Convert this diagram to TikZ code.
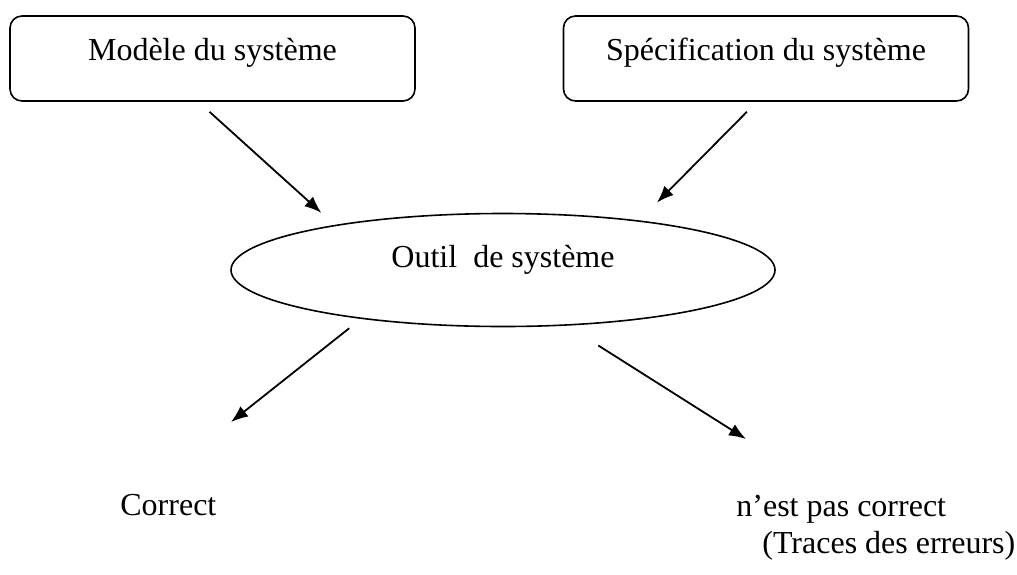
\documentclass[tikz,border=0pt]{standalone}
\usepackage{fontspec}
\setmainfont{Liberation Serif}
\usepackage{tikz}
\usetikzlibrary{shapes}
\usetikzlibrary{arrows.meta}
\tikzset{boite/.style={rectangle, rounded corners=6pt, draw, line width=.8pt, minimum width=202.5pt, minimum height=42.5pt, text height=12pt, text depth=10.5pt}}
\tikzset{outil/.style={ellipse, draw, line width=.8pt, inner sep=0pt, minimum width=272pt, minimum height=56.5pt, text height=12pt, text depth=15pt}}
\tikzset{fleche/.style={line width=.9pt, -{Latex[length=8.5pt,width=6.5pt]}}}

\begin{document}
\begin{tikzpicture}[x=.5pt,y=-.5pt,font=\fontsize{16}{19}\selectfont]
    \useasboundingbox (0,0) rectangle (1017,574);
    \foreach \x/\lab/\tx in {
      212.5/modele/Modèle du système,
      766/spec/Spécification du système%
    } {
      \node[boite] (\lab) at (\x, 58.5) {\tx};
    }
    \node[outil] (outil) at (503,270) {Outil\ \ de système};
    \node[inner sep=0pt, anchor=base west] (correct) at (120,515) {Correct};
    \node[inner sep=0pt, anchor=base west] (faux) at (736,516) {n’est pas correct};
    \node[inner sep=0pt, anchor=base west] (traces) at (762,553) {(Traces des erreurs)};
    \coordinate (finok) at (231,422);
    \coordinate (finfaux) at (746,439);
    \draw[fleche, shorten <=7.5pt, shorten >=9pt] (modele.252) -- (outil.165);
    \draw[fleche, shorten <=7pt, shorten >=12.5pt] (spec.258) -- (outil.20);
    \draw[fleche, shorten <=7.5pt] (outil.199) -- (finok);
    \draw[fleche, shorten <=18.5pt] (outil.-41) -- (finfaux);
  \end{tikzpicture}
\end{document}
